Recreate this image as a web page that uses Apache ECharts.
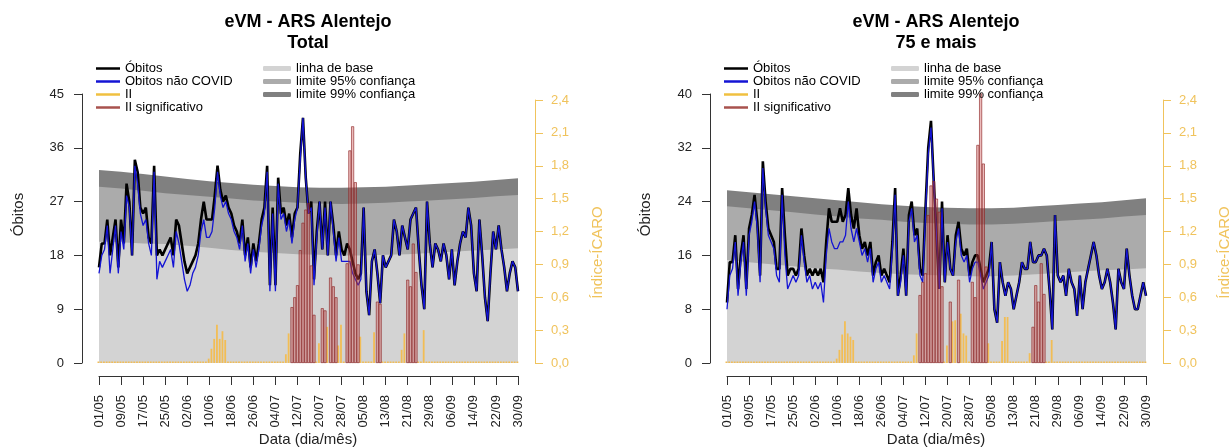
<!DOCTYPE html>
<html><head><meta charset="utf-8">
<script src="https://cdn.jsdelivr.net/npm/echarts/dist/echarts.min.js"></script>
<style>html,body{margin:0;padding:0;background:#fff}#c{width:1231px;height:448px}</style>
</head><body><div id="c"></div>
<script>
// ---------- DATA ----------
const tickLabels = ['01/05','09/05','17/05','25/05','02/06','10/06','18/06','26/06','04/07','12/07',
  '20/07','28/07','05/08','13/08','21/08','29/08','06/09','14/09','22/09','30/09'];
const iiTickLabels = ['0,0','0,3','0,6','0,9','1,2','1,5','1,8','2,1','2,4'];
const bandDays = [0,8,16,24,32,40,48,56,64,72,80,88,96,104,112,120,128,136,144,152];

// Total
const totalLim99 = [32.3,32.0,31.6,31.2,30.8,30.4,30.1,29.8,29.6,29.4,29.3,29.3,29.4,29.5,29.7,29.9,30.1,30.3,30.6,30.9];
const totalLim95 = [29.5,29.2,28.8,28.4,28.1,27.8,27.5,27.2,27.0,26.8,26.7,26.6,26.7,26.8,27.0,27.2,27.4,27.6,27.9,28.1];
const totalBase  = [20.3,20.2,20.0,19.9,19.6,19.3,18.9,18.6,18.4,18.2,18.1,18.0,18.0,18.1,18.2,18.4,18.6,18.8,19.0,19.2];
const totalObitos = [16,20,20,24,18,21,24,16,24,20,
 30,27,18,34,32,26,25,26,21,20,
 33,18,19,18,19,20,21,18,24,23,
 20,17,15,16,17,18,20,24,27,24,
 24,24,28,33,29,27,28,26,25,23,
 22,20,24,18,21,16,20,17,20,24,
 26,33,13,26,13,31,25,26,23,25,
 21,25,26,35,41,31,25,27,14,22,
 27,19,27,18,27,23,18,22,19,18,
 20,19,17,15,14,15,26,12,8,17,
 19,15,10,18,16,17,18,24,22,18,
 23,21,19,24,25,26,19,13,9,27,
 20,16,20,19,17,20,18,14,19,13,
 17,20,22,21,26,23,15,12,24,18,
 11,7,15,22,19,23,19,16,12,15,
 17,16,12];
const totalNaoCovid = [15,18,19,23,15,19,23,15,22,19,
 28,26,18,33,30,25,23,24,20,18,
 32,14,17,16,17,18,19,16,22,20,
 17,14,12,13,15,16,18,22,24,21,
 21,22,26,32,28,26,27,25,24,22,
 21,19,23,17,20,15,19,16,19,23,
 25,32,12,25,12,30,24,25,22,24,
 20,24,26,34,41,31,25,26,13,21,
 27,19,26,18,27,22,17,21,17,17,
 17,17,15,14,13,14,26,12,8,17,
 19,15,10,18,16,17,18,24,22,18,
 23,21,19,24,25,26,19,13,9,27,
 20,16,20,19,17,20,18,14,19,13,
 17,20,22,21,26,23,15,12,24,18,
 11,7,15,22,19,23,19,16,12,15,
 17,16,12];
const totalII = [0,0,0,0,0,0,0,0,0,0,
 0,0,0,0,0,0,0,0,0,0,
 0,0,0,0,0,0,0,0,0,0,
 0,0,0,0,0,0,0,0,0,0,
 0.04,0.13,0.22,0.35,0.22,0.29,0.21,0,0,0,
 0,0,0,0,0,0,0,0,0,0,
 0,0,0,0,0,0,0,0,0.08,0.27,
 0.51,0.60,0.71,1.03,1.28,1.40,1.46,0.89,0.44,0,
 0.18,0.50,0.48,0.33,0.78,0.70,0.60,0.16,0.35,0,
 0.91,1.94,2.16,1.65,0.90,0.24,0,0,0,0,
 0.28,0.56,0.54,0,0,0,0,0,0,0,
 0.12,0.27,0.76,0.70,1.09,0.83,0,0,0.30,0,
 0,0,0,0,0,0,0,0,0,0,
 0,0,0,0,0,0,0,0,0,0,
 0,0,0,0,0,0,0,0,0,0,
 0,0,0];
const totalSigDays = [70,71,72,73,74,75,76,77,78,81,82,84,85,86,90,91,92,93,94,101,102,112,113,114,115];

// 75 e mais
const oldLim99 = [25.7,25.4,25.1,24.8,24.5,24.2,23.9,23.6,23.4,23.2,23.1,23.0,23.0,23.1,23.3,23.5,23.7,23.9,24.2,24.5];
const oldLim95 = [23.3,23.0,22.7,22.4,22.1,21.8,21.5,21.3,21.0,20.8,20.7,20.6,20.6,20.7,20.9,21.1,21.3,21.5,21.8,22.0];
const oldBase  = [15.3,15.0,14.7,14.4,14.1,13.9,13.6,13.4,13.2,13.1,13.0,12.9,12.9,13.0,13.2,13.4,13.6,13.8,13.9,14.1];
const oldObitos = [9,15,15,19,11,16,19,11,20,22,
 25,21,13,30,24,20,19,18,14,14,
 26,19,13,14,14,13,14,20,16,13,
 14,13,14,13,14,12,18,23,21,21,
 21,23,21,22,26,22,20,23,19,17,
 18,16,18,13,15,16,13,14,13,12,
 18,26,10,13,17,10,22,24,19,20,
 14,13,23,32,36,27,19,11,24,12,
 19,14,13,19,21,17,16,17,13,15,
 16,16,14,12,13,14,18,8,6,15,
 12,10,12,11,8,10,12,15,14,14,
 18,15,15,16,16,17,16,11,5,22,
 13,12,13,10,14,12,11,7,13,8,
 12,14,16,18,16,13,11,12,14,12,
 9,5,14,12,11,17,13,10,8,8,
 10,12,10];
const oldNaoCovid = [8,13,14,18,10,15,18,10,19,21,
 24,20,12,29,23,19,18,17,13,12,
 25,16,11,12,13,12,13,19,15,12,
 13,11,12,11,12,9,16,20,18,17,
 17,18,18,19,24,20,18,20,18,16,
 17,15,17,12,14,15,12,13,12,11,
 17,25,10,12,16,10,21,23,18,19,
 13,12,22,31,35,27,19,11,23,12,
 18,14,13,18,20,16,15,16,12,14,
 15,15,13,11,12,13,18,8,6,15,
 12,10,12,11,8,10,12,15,14,14,
 18,15,15,16,16,17,16,11,5,22,
 13,12,13,10,14,12,11,7,13,8,
 12,14,16,18,16,13,11,12,14,12,
 9,5,14,12,11,17,13,10,8,8,
 10,12,10];
const oldII = [0,0,0,0,0,0,0,0,0,0,
 0,0,0,0,0,0,0,0,0,0,
 0,0,0,0,0,0,0,0,0,0,
 0,0,0,0,0,0,0,0,0,0,
 0.04,0.12,0.26,0.38,0.27,0.24,0.21,0,0,0,
 0,0,0,0,0,0,0,0,0,0,
 0,0,0,0,0,0,0,0,0.07,0.27,
 0.62,0.74,0.82,1.35,1.62,1.66,1.50,1.38,0.70,0,
 0.16,0.56,0.38,0.39,0.76,0.45,0.27,0.25,0,0.74,
 0.60,1.99,2.46,1.82,0.88,0.18,0,0,0,0,
 0.20,0.42,0.42,0,0,0,0,0,0,0,
 0.09,0.33,0.71,0.56,0.91,0.63,0,0,0.21,0,
 0,0,0,0,0,0,0,0,0,0,
 0,0,0,0,0,0,0,0,0,0,
 0,0,0,0,0,0,0,0,0,0,
 0,0,0];
const oldSigDays = [70,71,72,73,74,75,76,77,78,81,84,89,90,91,92,93,94,111,112,113,114,115];

// ---------- OPTION ----------
const FF = '"Liberation Sans", Arial, sans-serif';
const ORANGE = '#f0c35c';
const AX = '#333';
const chartLefts = [99, 727];
const PW = 419;

const grids = [], xAxes = [], yAxes = [], series = [], legends = [];
const charts = [
  {ymax:45, yint:9, l99:totalLim99, l95:totalLim95, base:totalBase, ob:totalObitos, nc:totalNaoCovid, ii:totalII, sig:totalSigDays},
  {ymax:40, yint:8, l99:oldLim99, l95:oldLim95, base:oldBase, ob:oldObitos, nc:oldNaoCovid, ii:oldII, sig:oldSigDays}
];

charts.forEach((c, k) => {
  const L = chartLefts[k];
  const gA = 2*k, gB = 2*k+1;
  grids.push({left:L, top:94, width:PW, height:269, outerBoundsMode:'none'});
  grids.push({left:L, top:100, width:PW, height:263, outerBoundsMode:'none'});
  xAxes.push({gridIndex:gA, type:'value', min:0, max:152, interval:8, position:'bottom', offset:13,
    axisLine:{show:true, onZero:false, lineStyle:{color:AX, width:1}},
    axisTick:{show:true, length:9, lineStyle:{color:AX}},
    axisLabel:{rotate:90, margin:19, fontSize:13, color:'#222', fontFamily:FF,
      formatter: v => tickLabels[Math.round(v/8)] || ''},
    splitLine:{show:false}});
  xAxes.push({gridIndex:gB, type:'value', min:0, max:152, show:false, splitLine:{show:false}});
  yAxes.push({gridIndex:gA, type:'value', min:0, max:c.ymax, interval:c.yint, position:'left', offset:17,
    axisLine:{show:true, onZero:false, lineStyle:{color:AX, width:1}},
    axisTick:{show:true, length:8, lineStyle:{color:AX}},
    axisLabel:{margin:18, fontSize:13, color:'#222', fontFamily:FF},
    splitLine:{show:false}});
  yAxes.push({gridIndex:gB, type:'value', min:0, max:2.4, interval:0.3, position:'right', offset:17,
    axisLine:{show:true, onZero:false, lineStyle:{color:ORANGE, width:1}},
    axisTick:{show:true, length:8, lineStyle:{color:ORANGE}},
    axisLabel:{margin:16, fontSize:13, color:ORANGE, fontFamily:FF,
      formatter: v => iiTickLabels[Math.round(v/0.3)] || ''},
    splitLine:{show:false}});

  const band = (name, arr, col) => ({
    name, type:'line', xAxisIndex:gA, yAxisIndex:gA, symbol:'none', z:1, silent:true,
    data: bandDays.map((d,i)=>[d, arr[i]]),
    itemStyle:{color:col}, lineStyle:{width:0, color:col}, areaStyle:{color:col, opacity:1}
  });
  series.push(band('limite 99% confiança', c.l99, '#808080'));
  series.push(band('limite 95% confiança', c.l95, '#ababab'));
  series.push(band('linha de base', c.base, '#d3d3d3'));

  series.push({name:'Óbitos', type:'line', xAxisIndex:gA, yAxisIndex:gA, symbol:'none', z:2,
    data: c.ob.map((v,d)=>[d,v]), itemStyle:{color:'#000'}, lineStyle:{color:'#000', width:2.6}});
  series.push({name:'Obitos não COVID', type:'line', xAxisIndex:gA, yAxisIndex:gA, symbol:'none', z:2,
    data: c.nc.map((v,d)=>[d,v]), itemStyle:{color:'#1414d4'}, lineStyle:{color:'#1414d4', width:1.3}});

  const sigSet = new Set(c.sig);
  series.push({name:'II', type:'bar', xAxisIndex:gB, yAxisIndex:gB, z:3, barWidth:1.8, barMinHeight:1.5, barGap:'-100%',
    data: c.ii.map((v,d)=> sigSet.has(d) ? null : [d,v]).filter(x=>x),
    itemStyle:{color:'#f2bd55'}});
  series.push({name:'II significativo', type:'bar', xAxisIndex:gB, yAxisIndex:gB, z:3, barWidth:3, barGap:'-100%', clip:false,
    data: c.sig.map(d=>[d, c.ii[d]]),
    itemStyle:{color:'rgba(205,80,80,0.38)', borderColor:'rgba(140,35,35,0.9)', borderWidth:0.7}});

  const lgText = {fontSize:13, lineHeight:11.5, color:'#000', fontFamily:FF};
  legends.push({orient:'vertical', left:L-3, top:62, padding:0, itemGap:0, itemWidth:24, itemHeight:2.5,
    selectedMode:false, textStyle:lgText, itemStyle:{borderWidth:0},
    data:[{name:'Óbitos', icon:'rect'}, {name:'Obitos não COVID', icon:'rect'},
          {name:'II', icon:'rect', itemStyle:{color:'#f0c040'}},
          {name:'II significativo', icon:'rect', itemStyle:{color:'#a8524e'}}]});
  legends.push({orient:'vertical', left:L+164, top:62, padding:0, itemGap:0, itemWidth:28, itemHeight:5,
    selectedMode:false, textStyle:lgText, itemStyle:{borderWidth:0},
    data:[{name:'linha de base', icon:'roundRect'}, {name:'limite 95% confiança', icon:'roundRect'},
          {name:'limite 99% confiança', icon:'roundRect'}]});
});

const txt = (x, y, text, font, fill, rot) => ({type:'text', x, y, rotation: rot || 0, silent:true,
  style:{text, font, fill, textAlign:'center', textVerticalAlign:'middle', align:'center', verticalAlign:'middle'}});
const graphic = [
  txt(308, 22, 'eVM - ARS Alentejo', 'bold 18px '+FF, '#000'),
  txt(308, 43, 'Total', 'bold 18px '+FF, '#000'),
  txt(936, 22, 'eVM - ARS Alentejo', 'bold 18px '+FF, '#000'),
  txt(936, 43, '75 e mais', 'bold 18px '+FF, '#000'),
  txt(19, 214.5, 'Óbitos', '15px '+FF, '#222', Math.PI/2),
  txt(646, 214.5, 'Óbitos', '15px '+FF, '#222', Math.PI/2),
  txt(597.5, 252.5, 'Índice-ÍCARO', '15px '+FF, ORANGE, Math.PI/2),
  txt(1225, 252.5, 'Índice-ÍCARO', '15px '+FF, ORANGE, Math.PI/2),
  txt(308, 440, 'Data (dia/mês)', '15px '+FF, '#222'),
  txt(936, 440, 'Data (dia/mês)', '15px '+FF, '#222')
];

const chart = echarts.init(document.getElementById('c'), null, {renderer:'canvas'});
chart.setOption({
  animation:false, backgroundColor:'#fff',
  grid:grids, xAxis:xAxes, yAxis:yAxes, series, legend:legends, graphic,
  tooltip:{show:false}
});
</script>
</body></html>
